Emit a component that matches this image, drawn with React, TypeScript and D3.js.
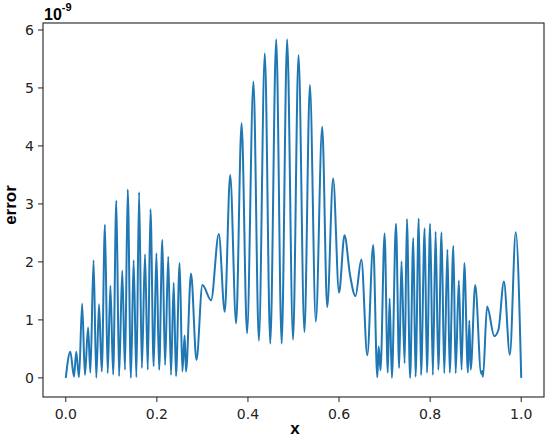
import * as d3 from 'd3';

// x positions of the turning points of the error curve (peaks and troughs)
const errX = [
  0.000, 0.010, 0.018, 0.023, 0.029, 0.036, 0.042, 0.049, 0.054, 0.061,
  0.067, 0.073, 0.079, 0.086, 0.092, 0.098, 0.104, 0.111, 0.117, 0.124,
  0.130, 0.136, 0.143, 0.149, 0.155, 0.161, 0.167, 0.174, 0.180, 0.186,
  0.193, 0.199, 0.205, 0.212, 0.218, 0.225, 0.231, 0.237, 0.242, 0.250,
  0.256, 0.261, 0.264, 0.275, 0.287, 0.300, 0.319, 0.336, 0.349, 0.361,
  0.374, 0.386, 0.398, 0.412, 0.424, 0.437, 0.449, 0.462, 0.474, 0.486,
  0.499, 0.511, 0.524, 0.536, 0.549, 0.563, 0.574, 0.587, 0.600, 0.612,
  0.624, 0.636, 0.649, 0.662, 0.675, 0.684, 0.687, 0.691, 0.700, 0.707,
  0.711, 0.716, 0.725, 0.732, 0.737, 0.744, 0.749, 0.756, 0.763, 0.768,
  0.775, 0.780, 0.788, 0.793, 0.800, 0.806, 0.812, 0.818, 0.825, 0.831,
  0.838, 0.843, 0.851, 0.856, 0.863, 0.869, 0.875, 0.883, 0.886, 0.889,
  0.899, 0.912, 0.914, 0.916, 0.925, 0.941, 0.950, 0.962, 0.975, 0.988,
  1.000,
];

// error values (units of 1e-9) at those points
const errY = [
  0.00, 0.45, 0.02, 0.45, 0.01, 1.28, 0.05, 0.87, 0.09, 2.03,
  0.00, 1.27, 0.11, 2.64, 0.08, 1.59, 0.06, 3.06, 0.03, 1.85,
  0.14, 3.25, 0.00, 2.03, 0.01, 3.20, 0.17, 2.13, 0.14, 2.91,
  0.20, 2.15, 0.14, 2.38, 0.22, 2.09, 0.05, 1.64, 0.03, 1.98,
  0.11, 0.73, 0.11, 1.80, 0.31, 1.60, 1.34, 2.48, 1.14, 3.50,
  0.94, 4.39, 0.77, 5.11, 0.64, 5.60, 0.59, 5.84, 0.59, 5.84,
  0.66, 5.57, 0.79, 5.05, 0.97, 4.33, 1.22, 3.44, 1.47, 2.46,
  1.78, 1.41, 2.04, 0.39, 2.29, 0.01, 0.54, 0.13, 2.49, 0.09,
  1.37, 0.00, 2.66, 0.17, 2.01, 0.25, 2.74, 0.00, 2.41, 0.02,
  2.75, 0.05, 2.58, 0.09, 2.66, 0.05, 2.52, 0.14, 2.51, 0.08,
  2.21, 0.09, 2.28, 0.08, 1.68, 0.14, 1.98, 0.09, 0.99, 0.14,
  1.60, 0.07, 0.12, 0.02, 1.23, 0.72, 0.83, 1.66, 0.40, 2.51,
  0.00,
];

const xTicks = [0, 0.2, 0.4, 0.6, 0.8, 1.0];
const yTicks = [0, 1, 2, 3, 4, 5, 6];

const W = 550;
const H = 438;
const plot = { left: 43, right: 544, top: 23, bottom: 397 };

const tickFont = '"DejaVu Sans", sans-serif';
const labelFont = '"Liberation Sans", Arial, sans-serif';

const App = () => {
  const xScale = d3.scaleLinear().domain([-0.05, 1.05]).range([plot.left, plot.right]);
  const yScale = d3.scaleLinear().domain([-0.33, 6.12]).range([plot.bottom, plot.top]);

  const points = errX.map((x, i) => [x, errY[i]] as [number, number]);
  const line = d3
    .line<[number, number]>()
    .x(d => xScale(d[0]))
    .y(d => yScale(d[1]))
    .curve(d3.curveMonotoneX);

  return (
    <svg
      width={W}
      height={H}
      style={{ position: 'absolute', left: 0, top: 0, background: '#fff' }}
    >
      {/* the error curve */}
      <path d={line(points) ?? ''} fill="none" stroke="#1f77b4" strokeWidth={2} strokeLinejoin="round" />

      {/* frame */}
      <rect
        x={plot.left}
        y={plot.top}
        width={plot.right - plot.left}
        height={plot.bottom - plot.top}
        fill="none"
        stroke="#222"
        strokeWidth={1.1}
      />

      {/* x axis ticks */}
      {xTicks.map(t => (
        <g key={'x' + t} transform={`translate(${xScale(t)},${plot.bottom})`}>
          <line y1={0} y2={5} stroke="#222" strokeWidth={1} />
          <text y={21.5} textAnchor="middle" fontFamily={tickFont} fontSize={14} fill="#222">
            {t.toFixed(1)}
          </text>
        </g>
      ))}

      {/* y axis ticks */}
      {yTicks.map(t => (
        <g key={'y' + t} transform={`translate(${plot.left},${yScale(t)})`}>
          <line x1={-5} x2={0} stroke="#222" strokeWidth={1} />
          <text x={-9} dy="0.36em" textAnchor="end" fontFamily={tickFont} fontSize={14} fill="#222">
            {t}
          </text>
        </g>
      ))}

      {/* axis labels */}
      <text x={295} y={434} textAnchor="middle" fontFamily={labelFont} fontWeight="bold" fontSize={17} fill="#000">
        x
      </text>
      <text
        transform="translate(15.5,205) rotate(-90)"
        textAnchor="middle"
        fontFamily={labelFont}
        fontWeight="bold"
        fontSize={17}
        fill="#000"
      >
        error
      </text>

      {/* scale factor */}
      <text x={44} y={20} fontFamily={labelFont} fontWeight="bold" fontSize={16} fill="#000">
        10
        <tspan dy={-9} fontSize={11}>-9</tspan>
      </text>
    </svg>
  );
};

export default App;
